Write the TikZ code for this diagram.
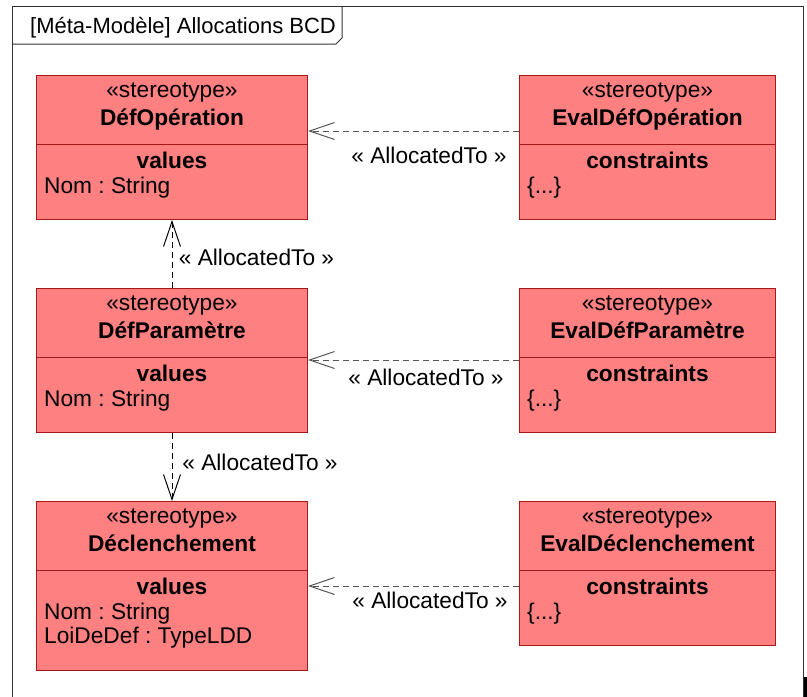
\documentclass[tikz,border=0pt]{standalone}
\usepackage{fontspec}
\setmainfont{Liberation Sans}
\usepackage{tikz}
\usetikzlibrary{arrows.meta,positioning,calc}
\frenchspacing
\definecolor{boxfill}{RGB}{255,128,128}
\definecolor{boxline}{RGB}{165,25,25}
\definecolor{linkgray}{RGB}{85,85,85}
\tikzset{
  classrect/.style={draw=boxline,fill=boxfill,line width=1pt,inner sep=0,anchor=north west},
  sepline/.style={draw=boxline,line width=1pt},
  txt/.style={inner sep=0,anchor=base,font=\fontsize{22.7}{26}\selectfont},
  ltxt/.style={txt,anchor=base west},
  btxt/.style={txt,font=\fontsize{22.7}{26}\selectfont\bfseries},
  alloc/.style={line width=1pt,dash pattern=on 6pt off 4pt,-{Straight Barb[length=25pt,width=17pt]}},
}
\newcommand{\classbox}[5]{\node[classrect,minimum width=#4,minimum height=#5] (#1) at (#2,#3) {};
  \draw[sepline] ($(#1.north west)+(0,69)$) -- ($(#1.north east)+(0,69)$);}
\newcommand{\classhead}[3]{\node[txt] (#1-st) at ($(#1.north)+(0,22)$) {«stereotype»};
  \node[btxt] (#1-nm) at ($(#1.north)+(0,50)$) {#2};
  \node[btxt] (#1-cp) at ($(#1.north)+(0,93)$) {#3};}

\begin{document}
\begin{tikzpicture}[x=1pt,y=-1pt]
\useasboundingbox (0,0) rectangle (807,697);
% frame and tab
\draw[black!80,line width=1pt] (12,697) -- (12,6) -- (803,6) -- (803,697);
\draw[black!80,line width=1pt] (12,44) -- (336,44) -- (342,38) -- (342,6);
\node[ltxt,font=\fontsize{22}{26}\selectfont] (title) at (30,33) {[Méta-Modèle] Allocations BCD};
\draw[line width=2.5pt] (805.5,677) -- (805.5,697);
% left column
\classbox{B1}{36}{75}{271}{144}
\classbox{B2}{36}{288}{271}{144}
\classbox{B3}{36}{501}{271}{169}
\classhead{B1}{DéfOpération}{values}
\classhead{B2}{DéfParamètre}{values}
\classhead{B3}{Déclenchement}{values}
\node[ltxt] (B1-a) at ($(B1.north west)+(8,118)$) {Nom : String};
\node[ltxt] (B2-a) at ($(B2.north west)+(8,118)$) {Nom : String};
\node[ltxt] (B3-a) at ($(B3.north west)+(8,118)$) {Nom : String};
\node[ltxt] (B3-b) at ($(B3.north west)+(8,142)$) {LoiDeDef : TypeLDD};
% right column
\classbox{E1}{519}{75}{256}{144}
\classbox{E2}{519}{288}{256}{144}
\classbox{E3}{519}{501}{256}{144}
\classhead{E1}{EvalDéfOpération}{constraints}
\classhead{E2}{EvalDéfParamètre}{constraints}
\classhead{E3}{EvalDéclenchement}{constraints}
\node[ltxt] (E1-a) at ($(E1.north west)+(8,118)$) {\{...\}};
\node[ltxt] (E2-a) at ($(E2.north west)+(8,118)$) {\{...\}};
\node[ltxt] (E3-a) at ($(E3.north west)+(8,118)$) {\{...\}};
% allocations
\draw[alloc,linkgray] ($(E1.north west)+(0,56)$) -- ($(B1.north east)+(0,56)$);
\draw[alloc,linkgray] ($(E2.north west)+(0,72)$) -- ($(B2.north east)+(0,72)$);
\draw[alloc,linkgray] ($(E3.north west)+(0,85)$) -- ($(B3.north east)+(0,85)$);
\draw[alloc] ($(B2.north west)+(136,0)$) -- ($(B1.south west)+(136,0)$);
\draw[alloc] ($(B2.south west)+(136,0)$) -- ($(B3.north west)+(136,0)$);
\node[txt] (L1) at (429,163) {« AllocatedTo »};
\node[txt] (L2) at (426,385) {« AllocatedTo »};
\node[txt] (L3) at (430,608) {« AllocatedTo »};
\node[txt] (L4) at (256.5,265) {« AllocatedTo »};
\node[txt] (L5) at (260,470) {« AllocatedTo »};
\end{tikzpicture}
\end{document}
